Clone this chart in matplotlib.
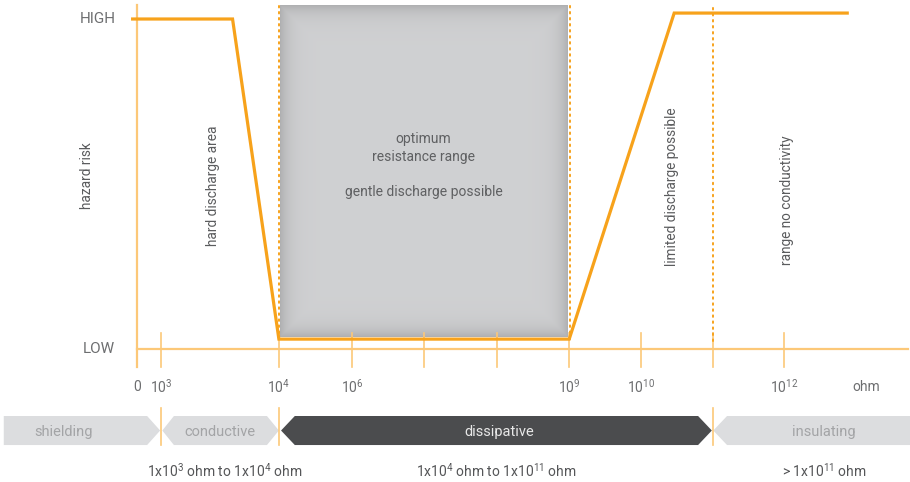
import matplotlib.pyplot as plt
import numpy as np
from matplotlib.patches import Polygon

plt.rcParams['font.family'] = ['Roboto', 'DejaVu Sans']
plt.rcParams['mathtext.default'] = 'regular'

# x: position along the resistance scale in tick steps (0 = "0" mark)
# y: hazard level (0 = axis line, 1 = HIGH)
curve_x = [-0.06, 1.32, 1.96, 5.97, 7.42, 9.81]
curve_y = [1.0, 1.0, 0.03, 0.03, 1.018, 1.018]

tick_pos = [0, 0.33, 1.96, 2.97, 3.96, 4.97, 5.97, 6.96, 7.95, 8.94]
tick_labels = ['0', '10$^3$', '10$^4$', '10$^6$', '', '', '10$^9$', '10$^{10}$', '', '10$^{12}$']
unit_label = 'ohm'
unit_pos = 10.07

level_labels = ['HIGH', 'LOW']
level_values = [1.0, 0.0]

box_x = [1.975, 5.94]
box_y = [0.036, 1.042]
box_text = 'optimum\nresistance range\n\ngentle discharge possible'

dotted_pos = [1.96, 5.98, 7.96]
dotted_bottom = [0.03, 0.03, 0.024]

rot_labels = ['hazard risk', 'hard discharge area', 'limited discharge possible', 'range no conductivity']
rot_x = [-0.69, 1.05, 7.39, 8.98]
rot_y = [0.524, 0.494, 0.491, 0.452]

classes = ['shielding', 'conductive', 'dissipative', 'insulating']
class_left = [-1.84, 0.35, 1.99, 7.96]
class_right = [0.32, 1.96, 7.94, 10.7]
class_left_point = [0, 0.16, 0.19, 0.19]
class_right_point = [0.18, 0.165, 0.19, 0]
class_text_x = [-1.02, 1.146, 5.01, 9.49]
class_fill = ['#dcdddf', '#dcdddf', '#4b4c4e', '#dcdddf']
class_text_col = ['#a3a4a6', '#a3a4a6', '#e8e8e8', '#a3a4a6']
separators = [0.33, 1.96, 7.96]

ranges = ['1x10$^3$ ohm to 1x10$^4$ ohm', '1x10$^4$ ohm to 1x10$^{11}$ ohm', '> 1x10$^{11}$ ohm']
range_x = [1.215, 4.97, 9.50]

orange = '#f7a21b'
light_orange = '#fcc878'
grey_text = '#6d6e70'

fig = plt.figure(figsize=(9.1, 4.82), dpi=100)
ax = fig.add_axes([0, 0, 1, 1])
ax.set_xlim(-1.892, 10.677)
ax.set_ylim(-0.403, 1.0576)
ax.axis('off')

# grey optimum box with darker edges
nx, ny = 300, 340
gx = np.linspace(0, 1, nx)
gy = np.linspace(0, 1, ny)
dx = np.minimum(gx, 1 - gx)[None, :] * (box_x[1] - box_x[0]) * 72.4
dy = np.minimum(gy, 1 - gy)[:, None] * (box_y[1] - box_y[0]) * 330
d = np.minimum(dx, dy)
shade = 0.69 + (0.815 - 0.69) * (1 - np.exp(-d / 9))
img = np.dstack([shade, shade + 0.003, shade + 0.01])
ax.imshow(img, extent=[box_x[0], box_x[1], box_y[0], box_y[1]], aspect='auto', zorder=1)
ax.text(np.mean(box_x), 0.556, box_text, ha='center', va='center', fontsize=10,
        color='#5f6062', linespacing=1.36, zorder=3)

# axes lines and ticks
ax.plot([0, 0], [-0.0545, 1.042], color=light_orange, lw=1.6, zorder=2)
ax.plot([0, 10.65], [0, 0], color=light_orange, lw=1.6, zorder=2)
for p in tick_pos[1:]:
    ax.plot([p, p], [-0.0545, 0.05], color=light_orange, lw=1.2, zorder=2)
for p, lab in zip(tick_pos, tick_labels):
    ax.text(p, -0.115, lab, ha='center', va='center', fontsize=10, color=grey_text)
ax.text(unit_pos, -0.115, unit_label, ha='center', va='center', fontsize=10, color=grey_text)
for lab, v in zip(level_labels, level_values):
    ax.text(-0.30, v, lab, ha='right', va='center', fontsize=11, color=grey_text)

# dotted boundaries
for p, b in zip(dotted_pos, dotted_bottom):
    ax.plot([p, p], [b, 1.045], color=orange, lw=1.4, ls=(0, (0.8, 2.3)),
            dash_capstyle='round', zorder=3)

# hazard curve
ax.plot(curve_x, curve_y, color=orange, lw=2.3, solid_joinstyle='miter', zorder=4)

for t, x, y in zip(rot_labels, rot_x, rot_y):
    ax.text(x, y, t, rotation=90, ha='center', va='center', fontsize=9.8, color='#5a5b5d')

# classification band
b_top, b_bot = -0.203, -0.291
b_mid = (b_top + b_bot) / 2
for i in range(len(classes)):
    l, r = class_left[i], class_right[i]
    lp, rp = class_left_point[i], class_right_point[i]
    pts = [(l + lp, b_top), (r - rp, b_top), (r, b_mid), (r - rp, b_bot),
           (l + lp, b_bot), (l, b_mid)]
    ax.add_patch(Polygon(pts, closed=True, facecolor=class_fill[i], edgecolor='none', zorder=2))
    ax.text(class_text_x[i], b_mid - 0.003, classes[i], ha='center', va='center',
            fontsize=10.5, color=class_text_col[i], zorder=3)
for p in separators:
    ax.plot([p, p], [-0.179, b_bot], color=light_orange, lw=1.2, zorder=3)

for t, x in zip(ranges, range_x):
    ax.text(x, -0.370, t, ha='center', va='center', fontsize=10, color='#555658')

fig.savefig('out.png', dpi=100)
